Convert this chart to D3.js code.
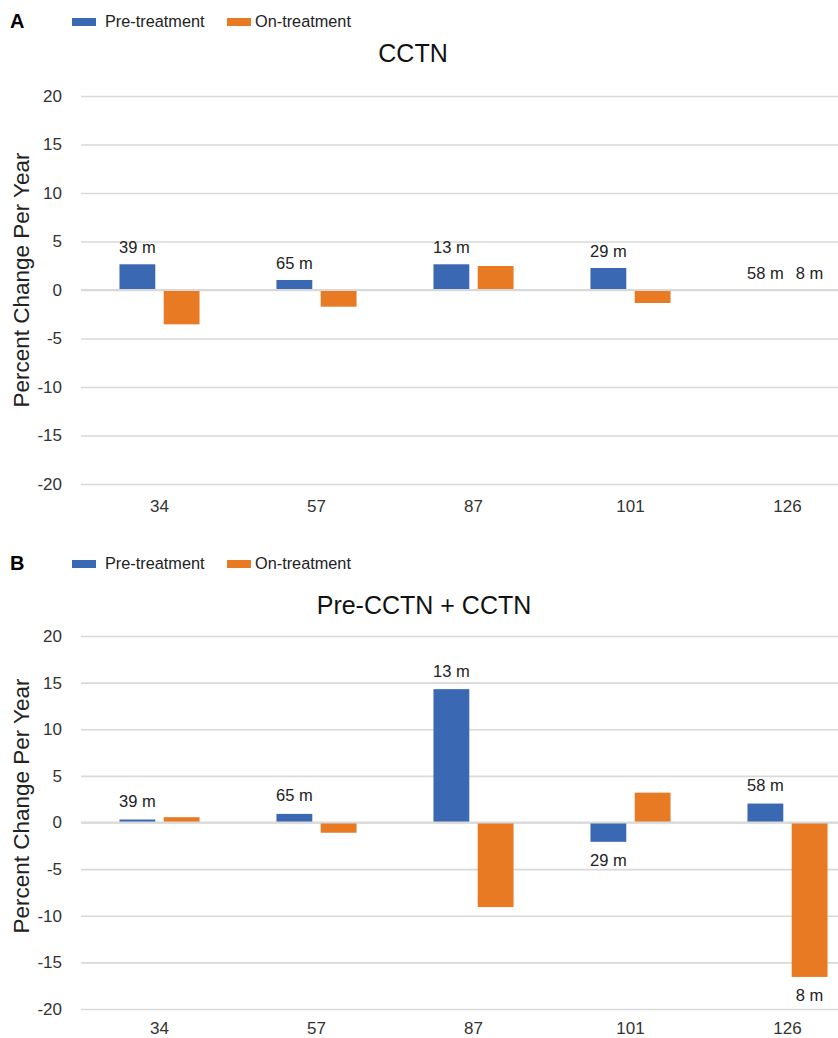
<!DOCTYPE html>
<html>
<head>
<meta charset="utf-8">
<script src="https://cdn.jsdelivr.net/npm/d3@7"></script>
<style>
  body { margin: 0; background: #fff; }
  svg { display: block; font-family: "Liberation Sans", Arial, sans-serif; }
</style>
</head>
<body>
<script>
// data
const patients = ["34", "57", "87", "101", "126"];
const seriesNames = ["Pre-treatment", "On-treatment"];
const yTicks = [-20, -15, -10, -5, 0, 5, 10, 15, 20];

// panel A: CCTN
const cctnPre = [2.65, 1.03, 2.65, 2.27, 0];
const cctnOn = [-3.54, -1.72, 2.47, -1.34, 0];
const cctnPreLabels = ["39 m", "65 m", "13 m", "29 m", "58 m"];
const cctnOnLabels = ["", "", "", "", "8 m"];

// panel B: Pre-CCTN + CCTN
const bothPre = [0.32, 0.92, 14.3, -2.07, 2.03];
const bothOn = [0.57, -1.1, -9.07, 3.2, -16.56];
const bothPreLabels = ["39 m", "65 m", "13 m", "29 m", "58 m"];
const bothOnLabels = ["", "", "", "", "8 m"];

const width = 838, height = 1038;
const colors = ["#3b68b2", "#e97a24"];

const svg = d3.select("body").append("svg")
    .attr("width", width)
    .attr("height", height)
    .attr("viewBox", [0, 0, width, height]);

const x0 = d3.scaleBand()
    .domain(patients)
    .range([81, 866])
    .padding(0);

const bw = x0.bandwidth();
const x1 = d3.scaleBand()
    .domain([0, 1])
    .range([bw * 0.245, bw * 0.755])
    .paddingInner(0.19);

function panel(opt) {
  const y = d3.scaleLinear().domain([-20, 20]).range([opt.bottom, opt.top]);
  const g = svg.append("g");

  // letter + legend
  g.append("text")
      .attr("x", 10).attr("y", opt.legendY + 9)
      .attr("font-size", 20).attr("font-weight", "bold").attr("fill", "#000")
      .text(opt.letter);

  const leg = g.append("g")
    .selectAll("g")
    .data(seriesNames)
    .join("g")
      .attr("transform", (d, i) => `translate(${[72, 227][i]},${opt.legendY})`);
  leg.append("rect")
      .attr("y", -1).attr("width", 24).attr("height", 8)
      .attr("fill", (d, i) => colors[i]);
  leg.append("text")
      .attr("x", (d, i) => [33, 28][i])
      .attr("y", 8)
      .attr("font-size", 16.3).attr("fill", "#222")
      .text(d => d);

  // title
  g.append("text")
      .attr("x", opt.titleX).attr("y", opt.titleY)
      .attr("text-anchor", "middle")
      .attr("font-size", 25).attr("fill", "#111")
      .text(opt.title);

  // gridlines + y ticks
  g.append("g")
      .attr("transform", "translate(81,0)")
      .call(d3.axisLeft(y).tickValues(yTicks).tickFormat(d => String(d))
        .tickSize(-(866 - 81)).tickPadding(19))
      .call(a => a.select(".domain").remove())
      .call(a => a.selectAll("line").attr("stroke", "#d9d9d9").attr("stroke-width", 1.6))
      .call(a => a.selectAll("text").attr("font-size", 17).attr("fill", "#333"));

  // bars
  const vals = [opt.pre, opt.on];
  const groups = g.append("g")
    .selectAll("g")
    .data(patients)
    .join("g")
      .attr("transform", d => `translate(${x0(d)},0)`);

  groups.selectAll("rect")
    .data((d, i) => vals.map((v, k) => ({k, v: v[i]})))
    .join("rect")
      .attr("x", d => x1(d.k))
      .attr("width", x1.bandwidth())
      .attr("y", d => y(Math.max(0, d.v)))
      .attr("height", d => Math.abs(y(d.v) - y(0)))
      .attr("fill", d => colors[d.k]);

  // zero line drawn over the bars
  g.append("line")
      .attr("x1", 81).attr("x2", 866)
      .attr("y1", y(0)).attr("y2", y(0))
      .attr("stroke", "#d9d9d9").attr("stroke-width", 2.2);

  // data labels
  const labs = [opt.preLabels, opt.onLabels];
  groups.selectAll("text")
    .data((d, i) => labs.map((l, k) => ({k, l: l[i], v: vals[k][i]})).filter(d => d.l))
    .join("text")
      .attr("x", d => x1(d.k) + x1.bandwidth() / 2)
      .attr("y", d => d.v >= 0 ? y(d.v) - opt.labelGap : y(d.v) + opt.labelGap)
      .attr("dy", "0.35em")
      .attr("text-anchor", "middle")
      .attr("font-size", 16.5).attr("fill", "#222")
      .text(d => d.l);

  // x axis labels
  g.append("g")
      .attr("transform", `translate(0,${opt.bottom})`)
      .call(d3.axisBottom(x0).tickSize(0).tickPadding(opt.xPad))
      .call(a => a.select(".domain").remove())
      .call(a => a.selectAll("text").attr("font-size", 17).attr("fill", "#333"));

  // y axis title
  g.append("text")
      .attr("transform", `translate(29,${opt.yLabelY}) rotate(-90)`)
      .attr("text-anchor", "middle")
      .attr("font-size", 22.5).attr("fill", "#222")
      .text("Percent Change Per Year");
}

panel({
  letter: "A", legendY: 19, title: "CCTN", titleX: 413, titleY: 62,
  top: 96, bottom: 484, yLabelY: 280, labelGap: 17, xPad: 16,
  pre: cctnPre, on: cctnOn, preLabels: cctnPreLabels, onLabels: cctnOnLabels
});

panel({
  letter: "B", legendY: 561, title: "Pre-CCTN + CCTN", titleX: 424, titleY: 614,
  top: 636, bottom: 1009, yLabelY: 806, labelGap: 18.3, xPad: 13,
  pre: bothPre, on: bothOn, preLabels: bothPreLabels, onLabels: bothOnLabels
});
</script>
</body>
</html>
